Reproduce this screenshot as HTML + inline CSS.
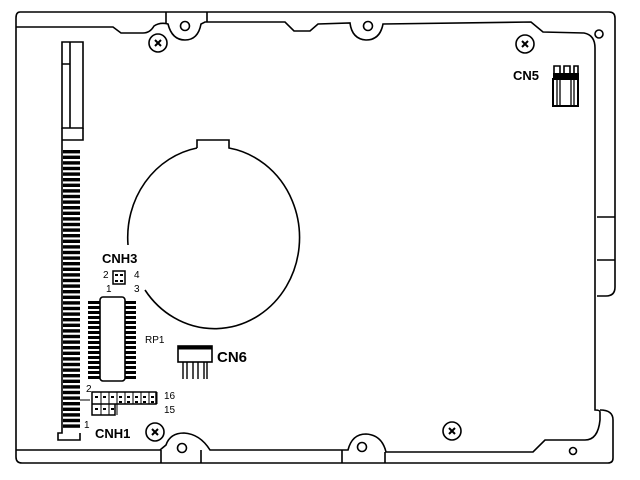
<!DOCTYPE html>
<html><head><meta charset="utf-8"><style>
html,body{margin:0;padding:0;background:#fff;width:640px;height:480px;overflow:hidden}
svg{display:block}
text{font-family:"Liberation Sans",Arial,sans-serif;fill:#000}
</style></head><body>
<svg id="s" width="640" height="480" viewBox="0 0 640 480" fill="none" stroke="#000" stroke-width="1.6">
<!-- outer frame -->
<path d="M20 12 L609 12 Q615 12 615 18 L615 287 Q615 296 606 296 L597 296"/>
<path d="M597 217 L615 217 M597 260 L615 260"/>
<path d="M600 410 Q613 410 613 420 L613 458 Q613 463 608 463 L22 463 Q16 463 16 457 L16 18 Q16 12 20 12"/>
<!-- inner top contour -->
<path d="M16 27 L113 27 L121 33 L143 33 Q150 33 154 26 Q160 22 168 24 Q172 40 185 40 Q198 40 201 24 L205 22 L285 22 L294 31 L310 31 L318 24 L350 23 Q352 39 366 40 Q380 40 383 24 L531 22 L543 32 L584 33 Q595 35 595 48 L595 410 Q600 410 600 412 L600 420 Q598 440 585 440 L545 440 L533 452 L386 452 Q382 435 366 434 Q352 434 348 450 L210 450 Q200 434 184 433 Q170 433 166 445 L160 450 L16 450"/>
<path d="M166 12 L166 23 M207 12 L207 22 M161 450 L161 463 M201 450 L201 463 M342 450 L342 463 M385 452 L385 463"/>
<!-- holes -->
<circle cx="185" cy="26" r="4.5"/><circle cx="368" cy="26" r="4.5"/><circle cx="599" cy="34" r="4"/>
<circle cx="182" cy="448" r="4.5"/><circle cx="362" cy="447" r="4.5"/><circle cx="573" cy="451" r="3.5"/>
<!-- screws -->
<g id="screws"></g>
<!-- big circle with notch -->
<path d="M197 148 L197 140 L229 140 L229 148 A85 91 0 1 1 145 290"/>
<path d="M197 148 A85 91 0 0 0 128 245"/>
<!-- left connector -->
<path d="M62 42 L83 42 L83 128 L62 128 Z M62 64 L70 64 M70 42 L70 128"/>
<path d="M62 128 L62 140 M83 128 L83 140 L62 140"/>
<g id="pins"></g>
<path d="M62 140 L62 433 L58 433 L58 440 L80 440 L80 433"/>
<!-- CNH3 -->
<text x="102" y="263" font-size="13" font-weight="bold" stroke="none">CNH3</text>
<rect x="113" y="271" width="12" height="13" stroke-width="1.5"/>
<rect x="115" y="274" width="3" height="2" fill="#000" stroke="none"/><rect x="120" y="274" width="3" height="2" fill="#000" stroke="none"/>
<rect x="115" y="280" width="3" height="2" fill="#000" stroke="none"/><rect x="120" y="280" width="3" height="2" fill="#000" stroke="none"/>
<text x="103" y="278" font-size="10" stroke="none">2</text><text x="134" y="278" font-size="10" stroke="none">4</text>
<text x="106" y="292" font-size="10" stroke="none">1</text><text x="134" y="292" font-size="10" stroke="none">3</text>
<!-- RP1 -->
<g id="chip"></g>
<rect x="100" y="297" width="25" height="84" rx="3" fill="#fff"/>
<text x="145" y="343" font-size="10" stroke="none">RP1</text>
<!-- CN6 -->
<rect x="178" y="346" width="34" height="16" fill="#fff"/>
<path d="M178 348 L212 348" stroke-width="3"/>
<path d="M183 362 L183 379 M187 362 L187 379 M193 362 L193 379 M198 362 L198 379 M204 362 L204 379 M207 362 L207 379" stroke-width="1.4"/>
<text x="217" y="362" font-size="15" font-weight="bold" stroke="none">CN6</text>
<!-- CNH1 -->
<g id="hdr"></g>
<path d="M80 400 L90 400" stroke-width="1"/>
<text x="86" y="392" font-size="10" stroke="none">2</text>
<text x="164" y="399" font-size="10" stroke="none">16</text>
<text x="164" y="413" font-size="10" stroke="none">15</text>
<text x="84" y="428" font-size="10" stroke="none">1</text>
<text x="95" y="438" font-size="13" font-weight="bold" stroke="none">CNH1</text>
<!-- CN5 -->
<text x="513" y="80" font-size="13" font-weight="bold" stroke="none">CN5</text>
<path d="M554 73 L554 66 L560 66 L560 73 M564 73 L564 66 L570 66 L570 73 M574 73 L574 66 L578 66 L578 73"/>
<rect x="553" y="73" width="26" height="6" fill="#000" stroke="none"/>
<rect x="553" y="79" width="25" height="27" stroke-width="2"/>
<path d="M557 80 L557 105 M560 80 L560 105 M571 80 L571 105 M574 80 L574 105" stroke-width="1.3"/>
</svg>
<script>
var NS="http://www.w3.org/2000/svg";
function el(p,t,a){var e=document.createElementNS(NS,t);for(var k in a)e.setAttribute(k,a[k]);document.getElementById(p).appendChild(e);return e;}
[[158,43],[525,44],[452,431],[155,432]].forEach(function(c){
 el("screws","circle",{cx:c[0],cy:c[1],r:9});
 el("screws","path",{d:"M"+(c[0]-3)+" "+(c[1]-3)+"L"+(c[0]+3)+" "+(c[1]+3)+"M"+(c[0]+3)+" "+(c[1]-3)+"L"+(c[0]-3)+" "+(c[1]+3),"stroke-width":2});
});
for(var y=150;y<430;y+=5.6){el("pins","rect",{x:63,y:y,width:17,height:3.4,fill:"#000",stroke:"none"});}
for(var y=301;y<378;y+=5){el("chip","rect",{x:88,y:y,width:12,height:3,fill:"#000",stroke:"none"});el("chip","rect",{x:125,y:y,width:11,height:3,fill:"#000",stroke:"none"});}
el("hdr","path",{d:"M92 392 L156 392 L156 404 L115 404 L115 415 L92 415 Z M92 404 L115 404","stroke-width":1.5});
for(var i=0;i<8;i++){var x=94+i*8;el("hdr","rect",{x:x+1,y:396,width:3,height:2,fill:"#000",stroke:"none"});
 if(i<3){el("hdr","rect",{x:x+1,y:408,width:3,height:2,fill:"#000",stroke:"none"});}
 else{el("hdr","rect",{x:x+1,y:401,width:3,height:2,fill:"#000",stroke:"none"});}
 el("hdr","path",{d:"M"+(x+7)+" 392 L"+(x+7)+" "+(i<3?415:404),"stroke-width":1});}
</script>
</body></html>
